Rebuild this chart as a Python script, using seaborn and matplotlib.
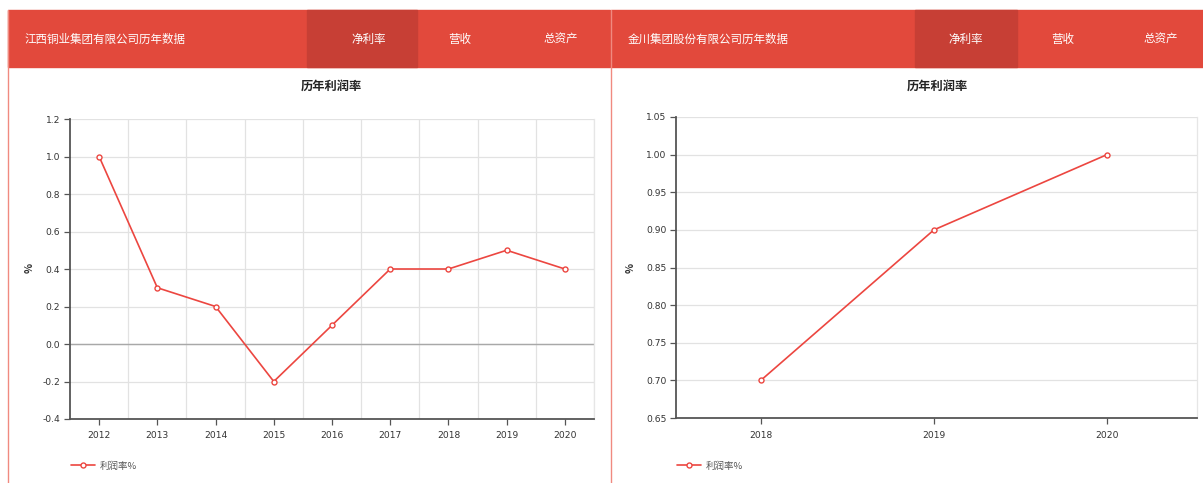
import matplotlib
matplotlib.use("Agg")
import matplotlib.pyplot as plt
from matplotlib.patches import Rectangle
import pandas as pd
import seaborn as sns

# ---- data -------------------------------------------------------------
left_company = "江西铜业集团有限公司历年数据"
right_company = "金川集团股份有限公司历年数据"
tabs = ["净利率", "营收", "总资产"]
chart_title = "历年利润率"
series_name = "利润率%"
y_label = "%"

left_years = ["2012", "2013", "2014", "2015", "2016", "2017", "2018", "2019", "2020"]
left_rate = [1.0, 0.3, 0.2, -0.2, 0.1, 0.4, 0.4, 0.5, 0.4]
left_yticks = [-0.4, -0.2, 0.0, 0.2, 0.4, 0.6, 0.8, 1.0, 1.2]
left_yticklabels = ["-0.4", "-0.2", "0.0", "0.2", "0.4", "0.6", "0.8", "1.0", "1.2"]

right_years = ["2018", "2019", "2020"]
right_rate = [0.70, 0.90, 1.00]
right_yticks = [0.65, 0.70, 0.75, 0.80, 0.85, 0.90, 0.95, 1.00, 1.05]
right_yticklabels = ["0.65", "0.70", "0.75", "0.80", "0.85", "0.90", "0.95", "1.00", "1.05"]

# ---- style ------------------------------------------------------------
sns.set_theme(style="white")
plt.rcParams["font.family"] = ["Noto Sans CJK SC", "DejaVu Sans"]
plt.rcParams["axes.unicode_minus"] = False

W, H = 1203, 483
fig = plt.figure(figsize=(W / 100, H / 100), dpi=100)
fig.patch.set_facecolor("white")

HEADER = "#e2493c"
HEADER_ACTIVE = "#c73f35"
LINE = "#ec4640"
BORDER = "#f08a80"


def px_rect(x0, y0, x1, y1):
    """Convert a pixel box (top-left origin) to figure-fraction rect."""
    return [x0 / W, 1 - y1 / H, (x1 - x0) / W, (y1 - y0) / H]


def header(x0, x1, company, tab_active, tab_xs):
    y0, y1 = 10, 67
    fig.patches.append(Rectangle((x0 / W, 1 - y1 / H), (x1 - x0) / W, (y1 - y0) / H,
                                 transform=fig.transFigure, color=HEADER, zorder=0))
    ax0, ax1 = tab_active
    fig.patches.append(Rectangle((ax0 / W, 1 - y1 / H), (ax1 - ax0) / W, (y1 - y0) / H,
                                 transform=fig.transFigure, color=HEADER_ACTIVE, zorder=0))
    ymid = 1 - 39 / H
    fig.text((x0 + 17) / W, ymid, company, color="white", fontsize=8.3,
             ha="left", va="center")
    for t, tx in zip(tabs, tab_xs):
        fig.text(tx / W, ymid, t, color="white", fontsize=8.3, ha="center", va="center")
    # panel border
    fig.add_artist(plt.Line2D([x0 / W, x0 / W], [0, 1 - y0 / H], transform=fig.transFigure,
                              color=BORDER, linewidth=1.0))


def chart(rect, years, rate, yticks, yticklabels, ylim, xlim, vgrid, title_x, ylab_x, legend_x):
    ax = fig.add_axes(rect)
    df = pd.DataFrame({"year": years, "rate": rate})
    sns.pointplot(data=df, x="year", y="rate", ax=ax, color=LINE, markers="o",
                  linestyles="-", markersize=3.6, markerfacecolor="white",
                  markeredgewidth=1.0, linewidth=1.2, label=series_name)
    ax.set_xlim(*xlim)
    ax.set_ylim(*ylim)
    ax.set_yticks(yticks)
    ax.set_yticklabels(yticklabels)
    ax.set_xticks(range(len(years)))
    ax.set_xticklabels(years)
    ax.tick_params(axis="both", labelsize=6.6, colors="#555", length=4, width=0.9,
                   direction="out", pad=3, bottom=True, left=True)
    ax.tick_params(axis="x", pad=5)
    for lab in ax.get_xticklabels() + ax.get_yticklabels():
        lab.set_color("#333")
        lab.set_family("DejaVu Sans")
    ax.set_xlabel("")
    ax.set_ylabel("")
    # horizontal grid lines
    ax.yaxis.grid(True, color="#e2e2e2", linewidth=0.9)
    ax.set_axisbelow(True)
    if vgrid:
        for b in range(len(years)):
            ax.axvline(b + 0.5, color="#e2e2e2", linewidth=0.9, zorder=0)
        if ylim[0] < 0 < ylim[1]:
            ax.axhline(0, color="#a8a8a8", linewidth=1.0, zorder=1)
    for s in ("left", "bottom"):
        ax.spines[s].set_color("#555")
        ax.spines[s].set_linewidth(1.3)
    for s in ("top", "right"):
        ax.spines[s].set_color("#e6e6e6")
        ax.spines[s].set_linewidth(0.9)
    ax.spines["top"].set_visible(False)
    fig.text(title_x / W, 1 - 86 / H, chart_title, fontsize=8.8, fontweight="bold",
             color="#222", ha="center", va="center")
    fig.text(ylab_x / W, 1 - 268 / H, y_label, fontsize=7.5, fontweight="bold",
             color="#333", rotation=90, ha="center", va="center")
    ax.legend(loc="center left", bbox_to_anchor=(legend_x / W, 1 - 466 / H),
              bbox_transform=fig.transFigure, frameon=False, fontsize=6.8,
              handlelength=2.6, handletextpad=0.5, borderpad=0, labelcolor="#555")
    return ax


header(8, 610, left_company, (307, 417), [369, 460, 561])
header(611, 1203, right_company, (915, 1017), [966, 1063, 1161])

chart(px_rect(70, 119, 594, 419), left_years, left_rate, left_yticks, left_yticklabels,
      (-0.4, 1.2), (-0.5, len(left_years) - 0.5), True, 331, 30, 66)
chart(px_rect(676, 117, 1197, 418), right_years, right_rate, right_yticks, right_yticklabels,
      (0.65, 1.05), (-0.49, len(right_years) - 0.48), False, 937, 631, 672)

fig.savefig("out.png", dpi=100, facecolor="white")
